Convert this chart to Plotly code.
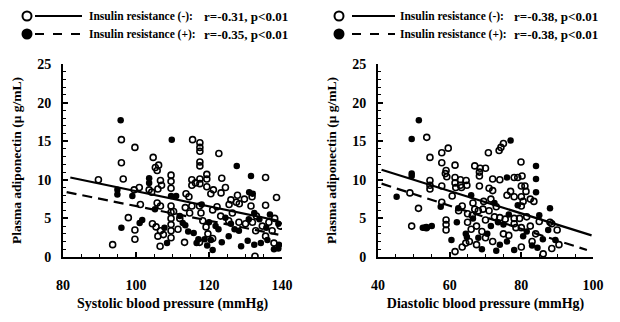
import plotly.graph_objects as go

W, H = 620, 322
OFF = 8  # default page body margin in the exported html

# ---------------- Data: Systolic panel ----------------
sbp_open = [
    (89.7, 10.0), (96.0, 15.2), (96.0, 12.2), (96.5, 10.1), (99.7, 14.2), (104.7, 12.9),
    (105.3, 11.6), (105.8, 11.2), (106.2, 11.9), (100.9, 9.0), (99.5, 8.7), (103.6, 8.7),
    (104.3, 8.4), (106.7, 9.9), (107.0, 9.3), (106.0, 8.8), (97.9, 5.1), (99.7, 3.5),
    (99.7, 2.3), (93.6, 1.6), (105.8, 7.0), (106.7, 6.6), (104.5, 4.3), (105.5, 3.9),
    (106.7, 3.4), (106.0, 2.7), (106.6, 1.4), (109.6, 10.6), (109.6, 9.8), (109.6, 8.9),
    (109.6, 6.6), (109.6, 5.8), (109.6, 5.0), (109.6, 4.2), (109.6, 3.4), (109.6, 2.5),
    (101.2, 6.8), (115.5, 15.2), (117.5, 14.8), (117.5, 14.2), (117.5, 13.7), (122.7, 13.4),
    (117.5, 12.3), (117.5, 11.8), (135.5, 10.3), (138.5, 7.7), (115.3, 10.0), (115.3, 9.3),
    (116.3, 9.6), (117.5, 10.1), (117.5, 9.5), (119.4, 10.7), (119.4, 10.1), (119.4, 9.1),
    (123.5, 10.2), (121.2, 8.7), (113.7, 8.2), (114.5, 7.8), (123.3, 8.3), (126.0, 7.4),
    (127.5, 7.1), (125.5, 6.8), (128.3, 6.9), (131.8, 7.8), (131.5, 6.6), (135.5, 6.7),
    (132.6, 0.1), (110.3, 5.9), (113.5, 6.4), (115.3, 6.6), (114.7, 5.7), (117.4, 6.6),
    (117.8, 5.7), (118.3, 4.7), (121.0, 6.1), (122.2, 6.5), (123.2, 5.3), (126.4, 5.7),
    (125.4, 4.7), (128.2, 4.5), (130.0, 4.3), (131.9, 4.5), (132.8, 3.4), (134.6, 4.0),
    (135.5, 2.7), (136.4, 4.5), (137.3, 3.4), (137.8, 1.8), (119.2, 3.9), (119.7, 3.0),
    (117.4, 1.9), (121.0, 2.4), (113.3, 1.9), (107.5, 2.9), (111.5, 3.6), (112.0, 5.0),
    (120.5, 8.2), (124.5, 9.0), (127.8, 8.0), (129.7, 7.5), (133.0, 5.3), (139.5, 4.0),
    (138.0, 5.0),
]
sbp_filled = [
    (95.8, 17.7), (109.8, 15.2), (127.6, 11.8), (131.5, 10.5), (103.6, 9.6), (103.6, 10.2),
    (94.9, 8.7), (94.9, 8.1), (99.0, 7.9), (101.0, 4.4), (101.7, 4.8), (96.0, 3.8),
    (109.6, 7.9), (136.7, 5.5), (131.0, 8.4), (132.0, 8.2), (139.0, 4.3), (139.0, 1.1),
    (139.2, 1.6), (113.5, 4.1), (115.8, 3.1), (117.1, 2.3), (118.8, 2.3), (116.6, 1.8),
    (122.6, 3.6), (123.5, 1.9), (125.4, 2.7), (127.0, 3.6), (128.8, 1.4), (130.6, 2.1),
    (132.4, 1.6), (134.2, 1.8), (136.0, 2.2), (137.8, 1.0), (121.0, 0.9), (124.5, 5.1),
    (128.2, 3.4), (130.9, 4.9), (132.4, 5.7), (112.0, 5.3), (112.8, 4.4), (114.3, 3.3),
    (120.0, 4.5), (121.8, 4.0), (126.0, 4.3), (118.0, 6.8), (107.8, 3.8), (108.5, 1.8),
    (111.0, 7.9), (133.8, 4.9), (135.7, 3.8), (119.5, 1.5), (120.5, 2.2), (105.2, 6.2),
]
sbp_fit_neg_x = [82, 139]
sbp_fit_neg_y = [10.3, 4.7]
sbp_fit_pos_x = [81, 139]
sbp_fit_pos_y = [8.4, 2.9]

# ---------------- Data: Diastolic panel ----------------
dbp_open = [
    (53.6, 15.5), (59.6, 14.1), (57.8, 13.5), (54.5, 12.9), (57.8, 12.2), (61.5, 11.9),
    (67.0, 11.8), (68.5, 11.5), (70.0, 11.5), (59.0, 11.2), (58.8, 10.8), (59.2, 10.4),
    (61.5, 10.3), (63.0, 10.0), (64.6, 9.9), (61.5, 9.6), (63.0, 9.3), (61.7, 9.0),
    (63.3, 9.0), (64.8, 9.3), (57.8, 9.2), (54.5, 9.9), (54.5, 9.3), (54.5, 8.8),
    (48.9, 8.3), (51.3, 6.3), (57.8, 7.1), (60.7, 7.9), (49.4, 4.0), (53.5, 3.8),
    (59.0, 4.8), (59.0, 4.2), (59.0, 3.5), (61.5, 0.7), (63.5, 1.3), (64.5, 1.8),
    (65.5, 2.0), (65.0, 5.6), (66.3, 5.4), (67.0, 6.2), (68.0, 6.0), (69.3, 6.2),
    (75.0, 14.7), (74.3, 14.2), (73.8, 13.8), (70.8, 13.5), (79.9, 12.3), (68.3, 11.0),
    (68.3, 10.5), (72.0, 10.1), (74.0, 10.0), (78.0, 10.3), (79.0, 10.3), (80.2, 10.5),
    (68.3, 9.2), (71.0, 8.9), (72.0, 8.6), (76.0, 8.0), (77.0, 8.5), (78.0, 7.8),
    (80.0, 9.2), (81.0, 9.2), (81.3, 8.5), (80.0, 7.8), (80.5, 7.2), (80.0, 6.6),
    (82.5, 7.5), (83.5, 7.2), (85.0, 4.6), (88.0, 4.5), (88.5, 4.3), (72.5, 5.2),
    (74.0, 5.1), (75.5, 4.9), (78.0, 5.0), (79.5, 5.0), (78.0, 4.3), (78.5, 3.8),
    (80.0, 3.8), (81.5, 5.2), (72.0, 2.0), (75.0, 3.0), (76.5, 2.8), (80.0, 1.3),
    (86.1, 0.4), (88.5, 1.1), (65.0, 4.5), (66.0, 3.6), (67.5, 4.0), (69.0, 3.3),
    (70.0, 4.8), (71.0, 6.0), (73.0, 6.5), (67.5, 1.6), (70.0, 2.5), (62.5, 6.0),
    (63.5, 6.6), (66.5, 7.0), (69.5, 7.2), (71.5, 7.5), (83.0, 2.0), (84.0, 3.0),
    (90.0, 3.5), (90.5, 1.6), (82.5, 4.0),
]
dbp_filled = [
    (51.4, 17.7), (49.4, 15.3), (77.0, 15.1), (49.4, 10.8), (49.4, 10.5), (45.2, 7.8),
    (62.4, 6.3), (52.5, 3.8), (53.0, 3.8), (53.5, 3.8), (64.5, 3.0), (64.8, 2.6),
    (84.1, 11.8), (84.1, 10.1), (84.1, 8.4), (88.0, 6.3), (85.0, 5.4), (73.5, 4.5),
    (75.0, 4.2), (74.0, 1.6), (76.0, 2.0), (73.0, 0.8), (78.0, 0.9), (83.0, 1.5),
    (84.5, 1.2), (80.5, 2.7), (70.5, 3.0), (71.5, 4.0), (68.0, 2.5), (66.5, 5.0),
    (69.0, 1.0), (76.5, 5.5), (79.0, 6.7), (86.0, 2.3), (87.5, 3.5), (89.5, 2.2),
    (62.0, 4.5), (60.5, 2.2), (66.0, 8.0), (76.0, 10.3), (72.5, 7.0), (81.5, 3.3),
    (57.5, 6.5), (55.0, 4.0),
]
dbp_fit_neg_x = [41, 99.6]
dbp_fit_neg_y = [11.3, 2.8]
dbp_fit_pos_x = [41, 98.3]
dbp_fit_pos_y = [9.5, 0.9]

sbp_ticks = [80, 100, 120, 140]
dbp_ticks = [40, 60, 80, 100]
y_ticks = [0, 5, 10, 15, 20, 25]

legend_neg = "Insulin resistance (-):"
legend_pos = "Insulin resistance (+):"
stats_left = ["r=-0.31, p&lt;0.01", "r=-0.35, p&lt;0.01"]
stats_right = ["r=-0.38, p&lt;0.01", "r=-0.38, p&lt;0.01"]

FONT = "Liberation Serif"

fig = go.Figure()

open_marker = dict(symbol="circle-open", size=6, color="black", line=dict(width=1.6, color="black"))
filled_marker = dict(symbol="circle", size=6.5, color="black", line=dict(width=0))

def add_panel(op, fi, nx, ny, px, py, xa, ya):
    fig.add_trace(go.Scatter(x=[p[0] for p in op], y=[p[1] for p in op], mode="markers",
                             marker=open_marker, xaxis=xa, yaxis=ya, showlegend=False))
    fig.add_trace(go.Scatter(x=[p[0] for p in fi], y=[p[1] for p in fi], mode="markers",
                             marker=filled_marker, xaxis=xa, yaxis=ya, showlegend=False))
    fig.add_trace(go.Scatter(x=nx, y=ny, mode="lines", line=dict(color="black", width=2.2),
                             xaxis=xa, yaxis=ya, showlegend=False))
    fig.add_trace(go.Scatter(x=px, y=py, mode="lines",
                             line=dict(color="black", width=2.2, dash="10px,6px"),
                             xaxis=xa, yaxis=ya, showlegend=False))

add_panel(sbp_open, sbp_filled, sbp_fit_neg_x, sbp_fit_neg_y, sbp_fit_pos_x, sbp_fit_pos_y, "x", "y")
add_panel(dbp_open, dbp_filled, dbp_fit_neg_x, dbp_fit_neg_y, dbp_fit_pos_x, dbp_fit_pos_y, "x2", "y2")


def px_x(v):
    return (v - OFF) / W


def px_y(v):
    return 1 - (v - OFF) / H


ydom = [px_y(257), px_y(64)]

def xax(dom, rng, ticks, title, anchor):
    return dict(domain=dom, range=rng, tickvals=ticks, anchor=anchor, automargin=False,
                showline=True, linecolor="black",
                linewidth=2, ticks="inside", ticklen=5, tickwidth=1.5, tickcolor="black",
                minor=dict(ticks="inside", ticklen=3, dtick=5, tickcolor="black", tickwidth=1),
                showgrid=False, zeroline=False, ticklabelstandoff=14,
                tickfont=dict(family=FONT, size=14, color="black", weight="bold"),
                title=dict(text=title, standoff=6,
                           font=dict(family=FONT, size=14, color="black", weight="bold")))

def yax(anchor):
    return dict(domain=ydom, range=[0, 25], tickvals=y_ticks, anchor=anchor, automargin=False,
                showline=True,
                linecolor="black", linewidth=2, ticks="inside", ticklen=5, tickwidth=1.5,
                tickcolor="black",
                minor=dict(ticks="inside", ticklen=3, dtick=1, tickcolor="black", tickwidth=1),
                showgrid=False, zeroline=False, ticklabelstandoff=7,
                tickfont=dict(family=FONT, size=14, color="black", weight="bold"),
                title=dict(text="Plasma adiponectin (\u03bc g/mL)", standoff=12,
                           font=dict(family=FONT, size=13.5, color="black", weight="bold")))

fig.update_layout(
    width=W, height=H, margin=dict(l=0, r=0, t=0, b=0, autoexpand=False),
    paper_bgcolor="white", plot_bgcolor="white", showlegend=False,
    xaxis=xax([px_x(63), px_x(282)], [80, 140], sbp_ticks, "Systolic blood pressure (mmHg)", "y"),
    yaxis=yax("x"),
    xaxis2=xax([px_x(378), px_x(593)], [40, 100], dbp_ticks, "Diastolic blood pressure (mmHg)", "y2"),
    yaxis2=yax("x2"),
)

# legend blocks (drawn as decoration in paper coordinates)
shapes = []
annotations = []
for cx, lx0, lx1, tx, sx, stats in [(27, 35, 82, 87, 202, stats_left),
                                     (339, 352, 395, 398, 512, stats_right)]:
    for row, (ry, filled, dash, lab) in enumerate([(16, False, "solid", legend_neg),
                                                   (34, True, "dash", legend_pos)]):
        shapes.append(dict(type="circle", xref="paper", yref="paper",
                           x0=px_x(cx - 4.5), x1=px_x(cx + 4.5), y0=px_y(ry + 4.5), y1=px_y(ry - 4.5),
                           line=dict(color="black", width=2),
                           fillcolor="black" if filled else "white"))
        shapes.append(dict(type="line", xref="paper", yref="paper",
                           x0=px_x(lx0), x1=px_x(lx1), y0=px_y(ry), y1=px_y(ry),
                           line=dict(color="black", width=2, dash=dash)))
        annotations.append(dict(text=lab, xref="paper", yref="paper", x=px_x(tx), y=px_y(ry),
                                xanchor="left", yanchor="middle", showarrow=False,
                                font=dict(family=FONT, size=11.5, color="black", weight="bold")))
        annotations.append(dict(text=stats[row], xref="paper", yref="paper", x=px_x(sx), y=px_y(ry),
                                xanchor="left", yanchor="middle", showarrow=False,
                                font=dict(family=FONT, size=13, color="black", weight="bold")))

fig.update_layout(shapes=shapes, annotations=annotations)

fig.write_html("out.html")
